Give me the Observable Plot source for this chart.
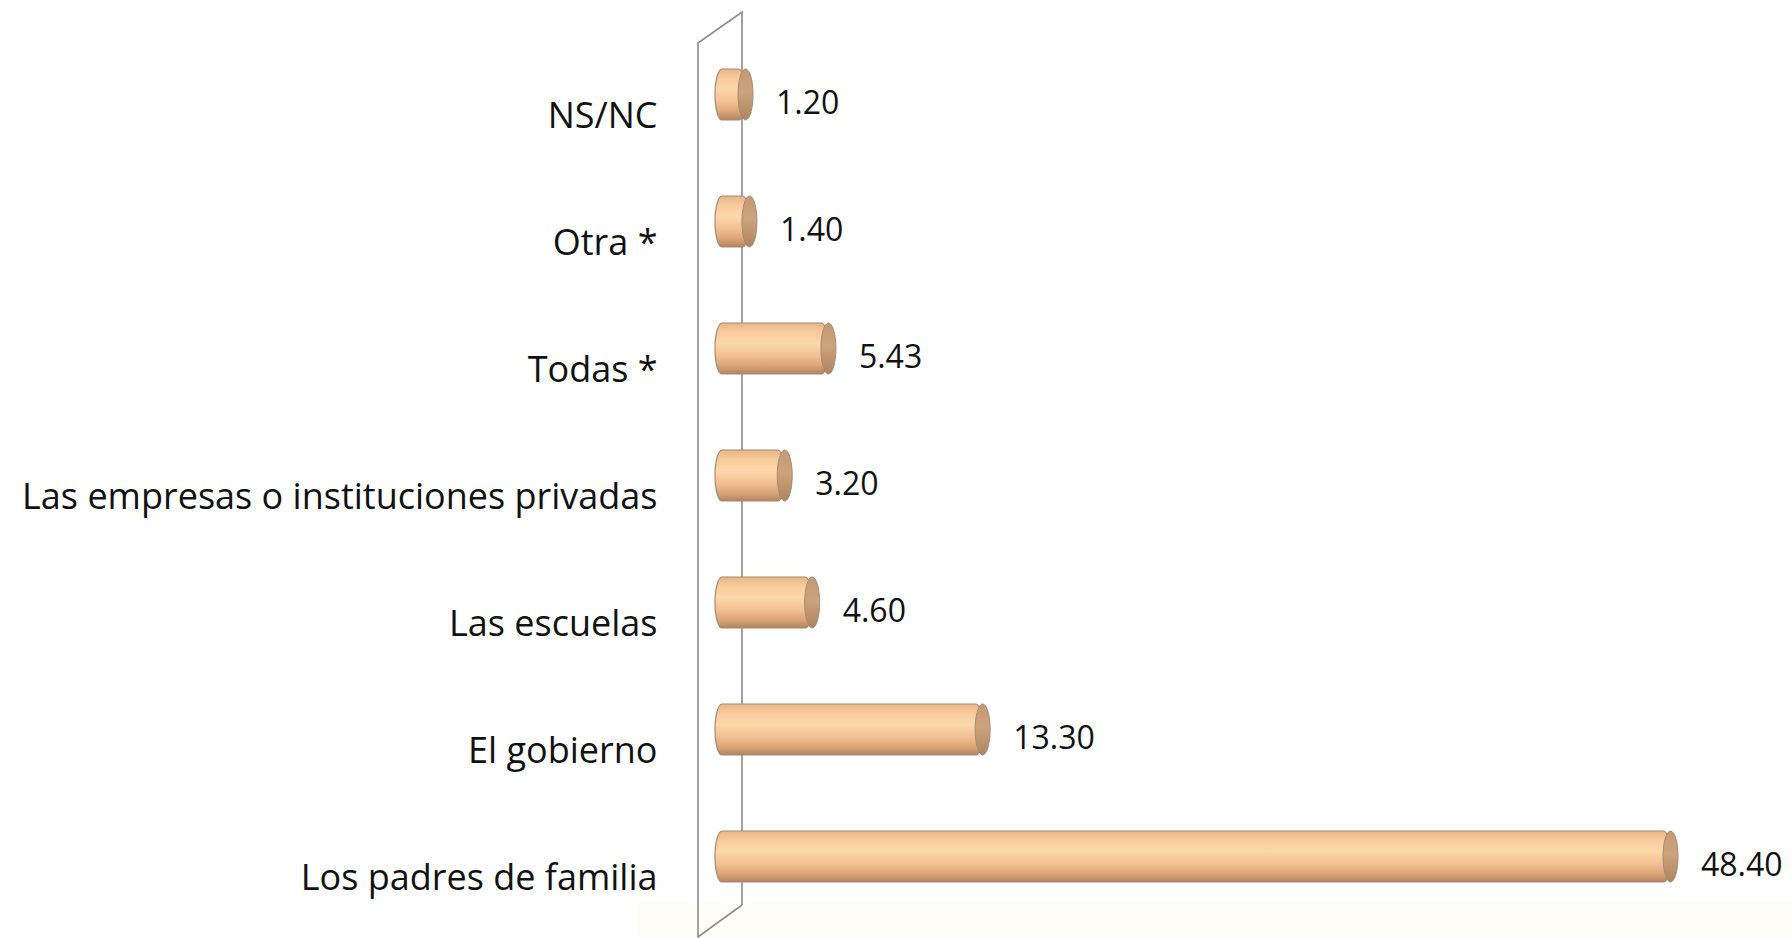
<!DOCTYPE html>
<html>
<head>
<meta charset="utf-8">
<script src="https://cdn.jsdelivr.net/npm/d3@7"></script>
<script src="https://cdn.jsdelivr.net/npm/@observablehq/plot@0.6"></script>
<style>
  html, body { margin: 0; padding: 0; background: #ffffff; }
  #chart { width: 1792px; height: 938px; overflow: hidden; }
</style>
</head>
<body>
<div id="chart"></div>
<script>
const categories = [
  "NS/NC",
  "Otra *",
  "Todas *",
  "Las empresas o instituciones privadas",
  "Las escuelas",
  "El gobierno",
  "Los padres de familia"
];
const values = [1.20, 1.40, 5.43, 3.20, 4.60, 13.30, 48.40];
const valueLabels = ["1.20", "1.40", "5.43", "3.20", "4.60", "13.30", "48.40"];

const data = categories.map((c, i) => ({cat: c, value: values[i], label: valueLabels[i]}));

// 3D wall / floor decoration, positioned from the x scale's zero and the frame
function wall(index, scales, vals, dims) {
  const x0 = scales.x(0);
  const back = x0 + 20, front = x0 - 24;
  const H = dims.height;
  const g = d3.create("svg:g");
  g.append("path")
    .attr("d", `M${front - 60},${H - 36}L${dims.width},${H - 36}L${dims.width},${H}L${front - 60},${H}Z`)
    .attr("fill", "#fefef7");
  g.append("path")
    .attr("d", `M${back},${H - 33}L${back},12L${front},43L${front},${H - 1}L${back},${H - 33}`)
    .attr("fill", "none")
    .attr("stroke", "#8c8c8c")
    .attr("stroke-width", 1.6);
  return g.node();
}

const chart = Plot.plot({
  width: 1792,
  height: 938,
  marginLeft: 722,
  marginRight: 0,
  marginTop: 66.5,
  marginBottom: 54.2,
  style: {fontFamily: "'Open Sans', sans-serif", background: "transparent", overflow: "visible"},
  x: {domain: [0, 54.6], axis: null},
  y: {domain: categories, paddingInner: 0.6, paddingOuter: 0, axis: null},
  marks: [
    wall,
    Plot.barX(data, {
      y: "cat", x: "value",
      insetLeft: -7, rx: 7, ry: 25.5,
      fill: "url(#cyl)", stroke: "#a88a72", strokeWidth: 1.2
    }),
    Plot.barX(data, {
      y: "cat", x1: "value", x2: "value",
      insetLeft: -7.5, insetRight: -7.5, rx: 7.5, ry: 25.5,
      fill: "url(#cap)", stroke: "#a88a72", strokeWidth: 1
    }),
    Plot.text(data, {
      y: "cat", text: "cat", frameAnchor: "left", textAnchor: "end",
      dx: -65, dy: 21, fontSize: 36, fill: "#111"
    }),
    Plot.text(data, {
      x: "value", y: "cat", text: "label", textAnchor: "start",
      dx: 30, dy: 9, fontSize: 32, fill: "#111"
    })
  ]
});

const svg = d3.select(chart.tagName.toLowerCase() === "svg" ? chart : chart.querySelector("svg"));
const defs = svg.insert("defs", ":first-child");
const cyl = defs.append("linearGradient").attr("id", "cyl").attr("x1", 0).attr("y1", 0).attr("x2", 0).attr("y2", 1);
[["0%", "#eab585"], ["18%", "#f8cb9c"], ["40%", "#fdd8aa"], ["65%", "#f2c090"], ["85%", "#d9a275"], ["100%", "#b08460"]]
  .forEach(([o, c]) => cyl.append("stop").attr("offset", o).attr("stop-color", c));
const cap = defs.append("linearGradient").attr("id", "cap").attr("x1", 0).attr("y1", 0).attr("x2", 0).attr("y2", 1);
[["0%", "#c39a74"], ["45%", "#cca37c"], ["100%", "#ad8460"]]
  .forEach(([o, c]) => cap.append("stop").attr("offset", o).attr("stop-color", c));

document.getElementById("chart").appendChild(chart);
</script>
</body>
</html>
